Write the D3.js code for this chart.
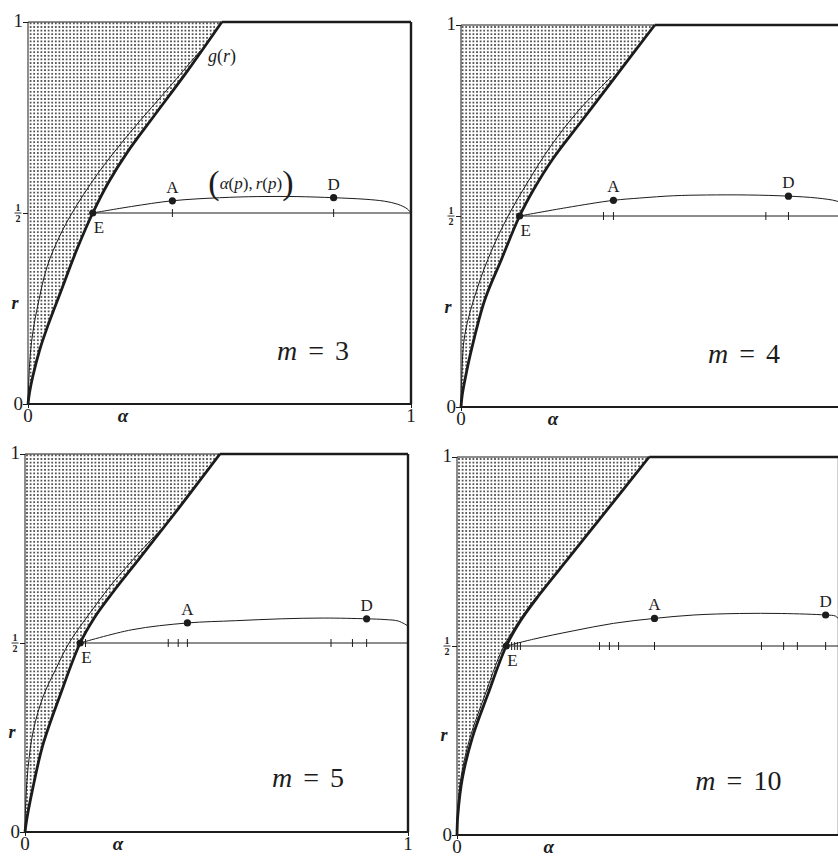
<!DOCTYPE html>
<html>
<head>
<meta charset="utf-8">
<script src="https://cdnjs.cloudflare.com/ajax/libs/d3/7.8.5/d3.min.js"></script>
<style>
  body { margin: 0; background: #fff; }
</style>
</head>
<body>
<div id="chart"></div>
<script>
// Values, all as [alpha, r] pairs
const mValues = [3, 4, 5, 10];

// thick boundary curve (left of it is shaded)
const boundaryM3 = [[0,0],[0.004,0.03],[0.012,0.07],[0.03,0.14],[0.05,0.2],[0.084,0.29],[0.127,0.403],[0.169,0.5],[0.21,0.58],[0.26,0.66],[0.326,0.75],[0.415,0.87],[0.506,1]];
const boundaryM4 = [[0,0],[0.003,0.03],[0.012,0.08],[0.027,0.149],[0.062,0.28],[0.105,0.385],[0.153,0.5],[0.19,0.57],[0.24,0.65],[0.316,0.75],[0.392,0.85],[0.506,1]];
const boundaryM5 = [[0,0],[0.004,0.03],[0.02,0.114],[0.046,0.228],[0.091,0.36],[0.144,0.5],[0.18,0.565],[0.23,0.635],[0.3,0.725],[0.4,0.855],[0.509,1]];
const boundaryM10 = [[0,0],[0.002,0.05],[0.014,0.15],[0.04,0.257],[0.08,0.37],[0.129,0.5],[0.165,0.565],[0.215,0.635],[0.294,0.735],[0.373,0.835],[0.503,1]];

// thin curve g(r)
const gCurveM3 = [[0,0],[0.002,0.06],[0.006,0.13],[0.013,0.19],[0.026,0.26],[0.05,0.36],[0.083,0.44],[0.115,0.5],[0.18,0.6],[0.266,0.71],[0.378,0.84],[0.45,0.925]];
const gCurveM4 = [[0,0],[0.002,0.08],[0.01,0.19],[0.044,0.315],[0.08,0.41],[0.123,0.5],[0.175,0.59],[0.233,0.681],[0.306,0.775],[0.393,0.865]];
const gCurveM5 = [[0,0],[0.002,0.08],[0.008,0.17],[0.022,0.27],[0.048,0.36],[0.08,0.43],[0.115,0.5],[0.17,0.58],[0.222,0.65],[0.264,0.7],[0.322,0.765],[0.355,0.8]];
const gCurveM10 = [[0,0],[0.001,0.05],[0.01,0.15],[0.034,0.257],[0.073,0.37],[0.118,0.49],[0.152,0.55],[0.189,0.605],[0.22,0.645]];

// the curve (alpha(p), r(p))
const orbitM3 = [[0.169,0.5],[0.27,0.517],[0.377,0.532],[0.5,0.54],[0.6,0.543],[0.7,0.543],[0.798,0.54],[0.88,0.536],[0.93,0.531],[0.965,0.523],[0.99,0.511],[1,0.5]];
const orbitM4 = [[0.153,0.5],[0.276,0.522],[0.398,0.541],[0.467,0.547],[0.555,0.553],[0.641,0.555],[0.75,0.555],[0.855,0.552],[0.93,0.547],[0.981,0.539],[1,0.53]];
const orbitM5 = [[0.144,0.5],[0.279,0.535],[0.424,0.553],[0.55,0.559],[0.67,0.564],[0.78,0.566],[0.892,0.564],[0.94,0.562],[0.975,0.558],[1,0.545]];
const orbitM10 = [[0.129,0.5],[0.2,0.518],[0.304,0.54],[0.41,0.56],[0.517,0.573],[0.62,0.582],[0.739,0.586],[0.85,0.586],[0.965,0.582],[0.991,0.579],[1,0.57]];

// tick marks on the r = 1/2 line
const ticksM3 = [0.377, 0.798];
const ticksM4 = [0.372, 0.398, 0.796, 0.855];
const ticksM5 = [0.158, 0.374, 0.4, 0.424, 0.799, 0.855, 0.892];
const ticksM10 = [0.143, 0.151, 0.158, 0.166, 0.373, 0.399, 0.423, 0.517, 0.797, 0.855, 0.891, 0.965];

// labelled points
const pointsM3 = [['E',0.169,0.5],['A',0.377,0.532],['D',0.798,0.54]];
const pointsM4 = [['E',0.153,0.5],['A',0.398,0.541],['D',0.855,0.552]];
const pointsM5 = [['E',0.144,0.5],['A',0.424,0.553],['D',0.892,0.564]];
const pointsM10 = [['E',0.129,0.5],['A',0.517,0.573],['D',0.965,0.582]];

const rTicks = [0, 0.5, 1];
const alphaTicks = [0, 1];

const panelData = [
  { boundary: boundaryM3, g: gCurveM3, orbit: orbitM3, ticks: ticksM3, points: pointsM3 },
  { boundary: boundaryM4, g: gCurveM4, orbit: orbitM4, ticks: ticksM4, points: pointsM4 },
  { boundary: boundaryM5, g: gCurveM5, orbit: orbitM5, ticks: ticksM5, points: pointsM5 },
  { boundary: boundaryM10, g: gCurveM10, orbit: orbitM10, ticks: ticksM10, points: pointsM10 }
];

// layout of the four panels (pixels)
const boxes = [
  { left: 28, right: 411, top: 22, bottom: 404, mPos: [0.65, 0.115], alphaPos: 0.248, rPos: 0.25 },
  { left: 461, right: 844, top: 25, bottom: 407, mPos: [0.645, 0.115], alphaPos: 0.24, rPos: 0.245 },
  { left: 25, right: 408, top: 454, bottom: 832, mPos: [0.645, 0.119], alphaPos: 0.243, rPos: 0.25 },
  { left: 457, right: 839, top: 457, bottom: 835, mPos: [0.624, 0.119], alphaPos: 0.24, rPos: 0.25 }
];

const ink = '#1c1c1c';
const serif = '"Liberation Serif", Tinos, "Times New Roman", "DejaVu Serif", serif';

const svg = d3.select('#chart')
  .append('svg')
  .attr('width', 838)
  .attr('height', 857)
  .attr('font-family', serif);

svg.append('rect').attr('width', 838).attr('height', 857).attr('fill', '#fff');

// stipple pattern for the shaded region
const pat = svg.append('defs').append('pattern')
  .attr('id', 'dots')
  .attr('patternUnits', 'userSpaceOnUse')
  .attr('width', 3.6)
  .attr('height', 3.6);
pat.append('circle')
  .attr('cx', 1.8).attr('cy', 1.8).attr('r', 0.95)
  .attr('fill', '#2a2a2a');

mValues.forEach((m, i) => drawPanel(m, panelData[i], boxes[i], i === 0));

function drawPanel(m, d, box, annotate) {
  const x = d3.scaleLinear().domain([0, 1]).range([box.left, box.right]);
  const y = d3.scaleLinear().domain([0, 1]).range([box.bottom, box.top]);
  const g = svg.append('g');

  const line = d3.line().curve(d3.curveCatmullRom.alpha(0.5))
    .x(p => x(p[0])).y(p => y(p[1]));

  // shaded region between alpha = 0 and the boundary
  const area = d3.area().curve(d3.curveCatmullRom.alpha(0.5))
    .y(p => y(p[1]))
    .x0(x(0))
    .x1(p => x(p[0]));
  g.append('path').datum(d.boundary).attr('d', area).attr('fill', 'url(#dots)');

  // axes ticks
  const left = g.append('g')
    .attr('transform', `translate(${box.left},0)`)
    .call(d3.axisLeft(y).tickValues(rTicks).tickSize(5).tickFormat(''));
  const bottom = g.append('g')
    .attr('transform', `translate(0,${box.bottom})`)
    .call(d3.axisBottom(x).tickValues(alphaTicks).tickSize(4).tickFormat(''));
  [left, bottom].forEach(a => {
    a.select('.domain').remove();
    a.selectAll('line').attr('stroke', ink).attr('stroke-width', 1);
  });

  // frame
  const gTop = d.boundary[d.boundary.length - 1][0];
  const seg = (x1, y1, x2, y2, w) => g.append('line')
    .attr('x1', x1).attr('y1', y1).attr('x2', x2).attr('y2', y2)
    .attr('stroke', ink).attr('stroke-width', w);
  seg(x(0), y(0), x(0), y(1), 1);
  seg(x(0), y(1), x(gTop), y(1), 1);
  seg(x(gTop), y(1), x(1), y(1), 2.4);
  seg(x(1), y(1), x(1), y(0), 2.4);
  seg(x(0), y(0), x(1), y(0), 2.2);

  // thin curve and thick boundary
  g.append('path').datum(d.g).attr('d', line)
    .attr('fill', 'none').attr('stroke', ink).attr('stroke-width', 1);
  g.append('path').datum(d.boundary).attr('d', line)
    .attr('fill', 'none').attr('stroke', ink).attr('stroke-width', 2.8);

  // r = 1/2 segment with ticks
  const E = d.points[0];
  seg(x(E[1]), y(0.5), x(1), y(0.5), 1);
  g.selectAll('.tk').data(d.ticks).join('line')
    .attr('x1', t => x(t)).attr('x2', t => x(t))
    .attr('y1', y(0.5) - 4).attr('y2', y(0.5) + 4)
    .attr('stroke', ink).attr('stroke-width', 1);

  // (alpha(p), r(p))
  g.append('path').datum(d.orbit).attr('d', line)
    .attr('fill', 'none').attr('stroke', ink).attr('stroke-width', 1);

  // points E, A, D
  g.selectAll('.pt').data(d.points).join('circle')
    .attr('cx', p => x(p[1])).attr('cy', p => y(p[2])).attr('r', 3.6)
    .attr('fill', ink);

  const lab = (tx, ty, s, anchor, size, italic) => g.append('text')
    .attr('x', tx).attr('y', ty)
    .attr('text-anchor', anchor)
    .attr('font-family', serif)
    .attr('fill', ink)
    .style('font-size', size + 'px')
    .style('font-style', italic ? 'italic' : 'normal')
    .text(s);

  d.points.forEach(p => {
    if (p[0] === 'E') lab(x(p[1]) + 1, y(p[2]) + 20, p[0], 'start', 17);
    else lab(x(p[1]), y(p[2]) - 8, p[0], 'middle', 17);
  });

  // tick labels
  lab(x(0) - 5, y(1) + 5, '1', 'end', 19);
  lab(x(0) - 5, y(0) + 6, '0', 'end', 19);
  lab(x(0), y(0) + 18, '0', 'middle', 19);
  if (x(1) < 838) lab(x(1), y(0) + 18, '1', 'middle', 19);
  // fraction 1/2
  lab(x(0) - 10, y(0.5) - 2, '1', 'middle', 10).style('font-weight', 'bold');
  lab(x(0) - 10, y(0.5) + 9, '2', 'middle', 10).style('font-weight', 'bold');
  seg(x(0) - 13.5, y(0.5), x(0) - 6.5, y(0.5), 0.9);
  // axis names
  lab(x(box.alphaPos), y(0) + 18, 'α', 'middle', 19, true).style('font-weight', 'bold');
  lab(x(0) - 13, y(box.rPos), 'r', 'middle', 18, true).style('font-weight', 'bold');

  // m label
  const mt = lab(x(box.mPos[0]), y(box.mPos[1]), '', 'start', 28);
  mt.append('tspan').style('font-style', 'italic').text('m');
  mt.append('tspan').attr('dx', 11).text('=');
  mt.append('tspan').attr('dx', 11).text(m);

  if (annotate) {
    // g(r)
    const gt = lab(x(0.47), y(0.895), '', 'start', 18);
    gt.append('tspan').style('font-style', 'italic').text('g');
    gt.append('tspan').text('(');
    gt.append('tspan').style('font-style', 'italic').text('r');
    gt.append('tspan').text(')');
    // (alpha(p), r(p))
    const ot = lab(x(0.582), y(0.563), '', 'middle', 17);
    ot.append('tspan').style('font-size', '34px').attr('dy', 5).text('(');
    ot.append('tspan').style('font-style', 'italic').attr('dy', -5).text('α');
    ot.append('tspan').text('(');
    ot.append('tspan').style('font-style', 'italic').text('p');
    ot.append('tspan').text('),');
    ot.append('tspan').style('font-style', 'italic').attr('dx', 3).text('r');
    ot.append('tspan').text('(');
    ot.append('tspan').style('font-style', 'italic').text('p');
    ot.append('tspan').text(')');
    ot.append('tspan').style('font-size', '34px').attr('dy', 5).text(')');
  }
}
</script>
</body>
</html>
